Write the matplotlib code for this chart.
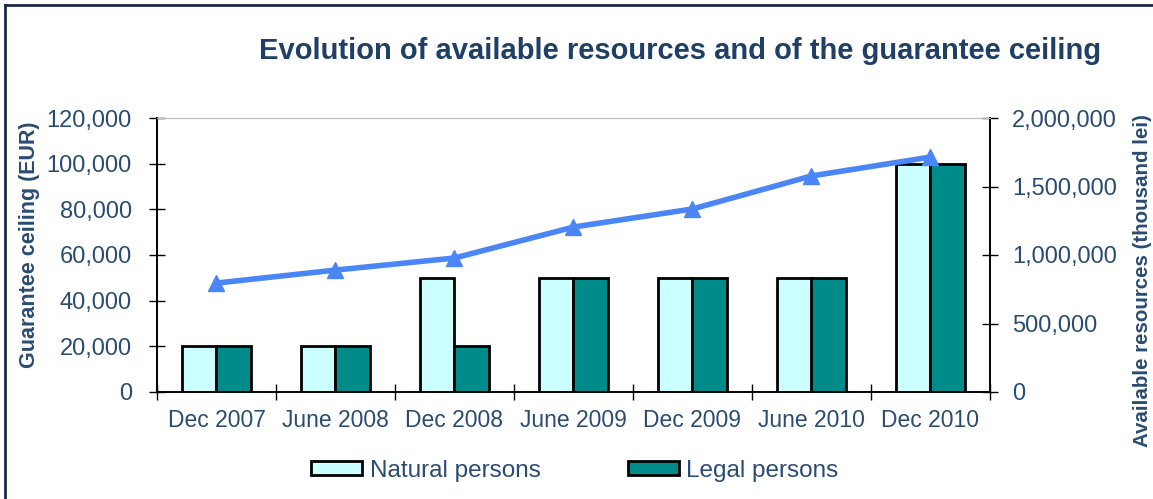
import matplotlib.pyplot as plt
import numpy as np
from matplotlib.lines import Line2D
from matplotlib.ticker import FuncFormatter

plt.rcParams['font.family'] = ['Liberation Sans', 'DejaVu Sans']

categories = ['Dec 2007', 'June 2008', 'Dec 2008', 'June 2009', 'Dec 2009', 'June 2010', 'Dec 2010']
natural = [20000, 20000, 50000, 50000, 50000, 50000, 100000]
legal = [20000, 20000, 20000, 50000, 50000, 50000, 100000]
resources = [795000, 890000, 978000, 1204000, 1336000, 1577000, 1715000]

text_col = '#2B4C72'
title_col = '#1F3F66'

fig = plt.figure(figsize=(11.53, 4.99), dpi=100)
ax = fig.add_axes([157 / 1153, 1 - 392 / 499, (990 - 157) / 1153, (392 - 118) / 499])
ax2 = ax.twinx()

x = np.arange(len(categories))
w = 0.29
ax.bar(x - w / 2, natural, w, color='#CCFFFF', edgecolor='black', linewidth=2, label='Natural persons', zorder=2)
ax.bar(x + w / 2, legal, w, color='#008B8B', edgecolor='black', linewidth=2, label='Legal persons', zorder=2)
ax.set_xlim(-0.5, len(categories) - 0.5)
ax.set_ylim(0, 120000)
ax.set_yticks(np.arange(0, 120001, 20000))
ax.yaxis.set_major_formatter(FuncFormatter(lambda v, p: f'{int(v):,}'))
ax.set_xticks(x)
ax.set_xticklabels(categories)
ax.set_xticks(np.arange(-0.5, len(categories), 1), minor=True)
ax.tick_params(axis='x', which='major', length=0, pad=12, labelsize=16.5, labelcolor=text_col)
ax.tick_params(axis='x', which='minor', direction='inout', length=12, width=1)
ax.tick_params(axis='y', direction='inout', length=12, width=1, labelsize=17, labelcolor=text_col, pad=12)

ax2.plot(x, resources, color='#4A86F7', linewidth=4, marker='^', markersize=11, zorder=3)
ax2.set_ylim(0, 2000000)
ax2.set_yticks(np.arange(0, 2000001, 500000))
ax2.yaxis.set_major_formatter(FuncFormatter(lambda v, p: f'{int(v):,}'))
ax2.tick_params(axis='y', direction='inout', length=12, width=1, labelsize=17, labelcolor=text_col, pad=10)

fig.text(30 / 1153, 1 - 245 / 499, 'Guarantee ceiling (EUR)', rotation=90,
         ha='center', va='center', fontsize=15.5, fontweight='bold', color=text_col)
fig.text(1142 / 1153, 1 - 281 / 499, 'Available resources (thousand lei)', rotation=90,
         ha='center', va='center', fontsize=14.8, fontweight='bold', color=text_col)

for a in (ax, ax2):
    a.spines['top'].set_color('#BBBBBB')
    a.spines['left'].set_linewidth(1.2)
    a.spines['right'].set_linewidth(1.2)
    a.spines['bottom'].set_linewidth(1.2)

fig.text(680 / 1153, 1 - 51 / 499, 'Evolution of available resources and of the guarantee ceiling',
         ha='center', va='center', fontsize=21, fontweight='bold', color=title_col)

leg = ax.legend(loc='center', bbox_to_anchor=(575 / 1153, 1 - 471 / 499), bbox_transform=fig.transFigure,
                ncol=2, frameon=False, fontsize=17.5, handlelength=2.1, handleheight=0.5,
                handletextpad=0.3, columnspacing=3.6)
for t in leg.get_texts():
    t.set_color(text_col)

# frame lines on the figure edges
fig.add_artist(Line2D([5 / 1153, 5 / 1153], [0, 1 - 5 / 499], color='#1B2A4A', linewidth=2))
fig.add_artist(Line2D([5 / 1153, 1], [1 - 5 / 499, 1 - 5 / 499], color='#1B2A4A', linewidth=2))

fig.savefig('out.png', dpi=100)
